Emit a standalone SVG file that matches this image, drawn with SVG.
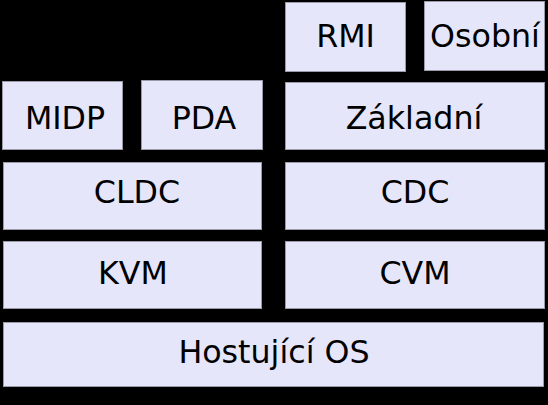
<svg xmlns="http://www.w3.org/2000/svg" width="548" height="405" viewBox="0 0 548 405">
<style>
.b{fill:#e6e6fa;stroke:#9a9aa8;stroke-width:1}
.t{font-family:"DejaVu Sans",sans-serif;font-size:31.7px;fill:#000;text-anchor:middle}
</style>
<rect width="548" height="405" fill="#000"/>
<g id="rmi"><rect class="b" x="285.5" y="2.5" width="120" height="69"/><text class="t" x="345.5" y="47">RMI</text></g>
<g id="osobni"><rect class="b" x="424.5" y="1.5" width="120" height="69"/><text class="t" x="485" y="47">Osobní</text></g>
<g id="midp"><rect class="b" x="2.5" y="81.5" width="120" height="68"/><text class="t" x="65" y="128.5">MIDP</text></g>
<g id="pda"><rect class="b" x="141.5" y="80.5" width="121" height="69"/><text class="t" x="204" y="128.5">PDA</text></g>
<g id="zakladni"><rect class="b" x="285.5" y="82.5" width="259" height="67"/><text class="t" x="414" y="128.5">Základní</text></g>
<g id="cldc"><rect class="b" x="3.5" y="162.5" width="258" height="67"/><text class="t" x="137" y="202.5">CLDC</text></g>
<g id="cdc"><rect class="b" x="285.5" y="162.5" width="259" height="67"/><text class="t" x="415" y="202.5">CDC</text></g>
<g id="kvm"><rect class="b" x="3.5" y="241.5" width="258" height="67"/><text class="t" x="133" y="284">KVM</text></g>
<g id="cvm"><rect class="b" x="285.5" y="241.5" width="259" height="67"/><text class="t" x="415" y="284">CVM</text></g>
<g id="host"><rect class="b" x="3.5" y="322.5" width="540" height="64"/><text class="t" x="274" y="362.5">Hostující OS</text></g>
<g id="connectors"/>
</svg>
